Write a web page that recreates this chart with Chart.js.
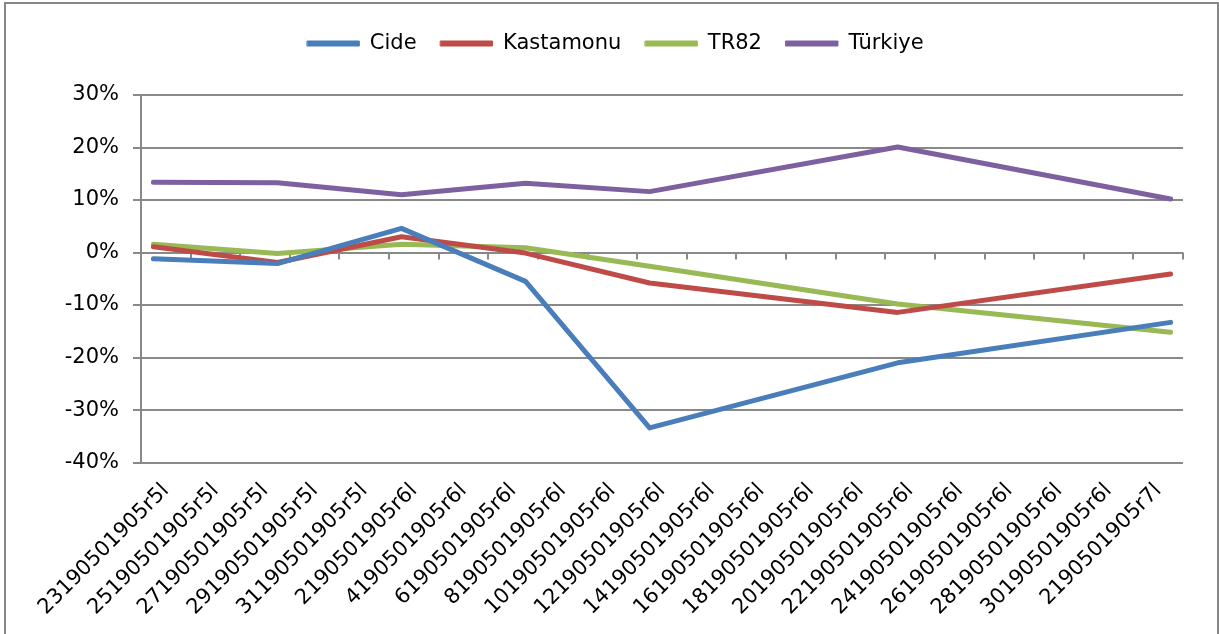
<!DOCTYPE html>
<html>
<head>
<meta charset="utf-8">
<script src="https://cdn.jsdelivr.net/npm/chart.js@4.4.1/dist/chart.umd.min.js"></script>
<style>
  html, body { margin: 0; padding: 0; background: #fff; overflow: hidden; }
  #wrap { position: relative; width: 1219px; height: 634px; }
  #frame { position: absolute; left: 4px; top: 2px; width: 1211px; height: 700px;
           border: 2px solid #878787; border-bottom: none; pointer-events: none; }
  canvas { position: absolute; left: 0; top: 0; }
</style>
</head>
<body>
<div id="wrap">
  <canvas id="c" width="1219" height="634"></canvas>
  <div id="frame"></div>
</div>
<script>
// Axis tick labels (one per 2-day interval, starting 23 May)
const X_LABELS = [
  "23190501905r5l", "25190501905r5l", "27190501905r5l", "29190501905r5l", "31190501905r5l",
  "2190501905r6l", "4190501905r6l", "6190501905r6l", "8190501905r6l", "10190501905r6l",
  "12190501905r6l", "14190501905r6l", "16190501905r6l", "18190501905r6l", "20190501905r6l",
  "22190501905r6l", "24190501905r6l", "26190501905r6l", "28190501905r6l", "30190501905r6l",
  "2190501905r7l"
];
// Observation dates as day offsets from 23 May
const DAYS = [0, 5, 10, 15, 20, 30, 41];
// Series values (%)
const CIDE      = [-1.2, -2.1, 4.6, -5.5, -33.4, -21.0, -13.3];
const KASTAMONU = [1.1, -1.9, 3.0, -0.1, -5.8, -11.4, -4.1];
const TR82      = [1.6, -0.2, 1.6, 0.9, -2.6, -9.8, -15.2];
const TURKIYE   = [13.4, 13.3, 11.0, 13.2, 11.6, 20.1, 10.2];
const SERIES_NAMES = ["Cide", "Kastamonu", "TR82", "Türkiye"];
const Y_TICKS = [-40, -30, -20, -10, 0, 10, 20, 30];

const COLORS = ["#4a7ebb", "#be4b48", "#98b954", "#7d60a0"];
const GRID = "#898989";
const FONT = "'DejaVu Sans', Verdana, sans-serif";

const toPts = arr => arr.map((v, i) => ({ x: DAYS[i], y: v }));
const datasets = [CIDE, KASTAMONU, TR82, TURKIYE].map((arr, i) => ({
  label: SERIES_NAMES[i],
  data: toPts(arr),
  borderColor: COLORS[i],
  backgroundColor: COLORS[i],
  borderWidth: 5,
  pointRadius: 0,
  pointHoverRadius: 0,
  tension: 0,
  borderCapStyle: 'round',
  borderJoinStyle: 'round',
  fill: false
}));

// Tick marks hanging below the 0% line (category axis crosses at 0)
const zeroAxisTicks = {
  id: 'zeroAxisTicks',
  beforeDatasetsDraw(chart) {
    const xs = chart.scales.x, ys = chart.scales.y, ctx = chart.ctx;
    const y0 = ys.getPixelForValue(0);
    ctx.save();
    ctx.strokeStyle = GRID;
    ctx.lineWidth = 2;
    ctx.beginPath();
    for (let i = 0; i <= X_LABELS.length; i++) {
      const x = Math.round(xs.getPixelForValue(2 * i - 0.5));
      ctx.moveTo(x, y0);
      ctx.lineTo(x, y0 + 7);
    }
    ctx.stroke();
    ctx.restore();
  }
};

const legendSpace = {
  id: 'legendSpace',
  beforeInit(chart) {
    const origFit = chart.legend.fit;
    chart.legend.fit = function () {
      origFit.bind(chart.legend)();
      this.height += 31;
    };
  },
  afterLayout(chart) {
    chart.legend.left += 20;
    chart.legend.right += 20;
  }
};

new Chart(document.getElementById('c'), {
  type: 'line',
  data: { datasets },
  plugins: [zeroAxisTicks, legendSpace],
  options: {
    responsive: false,
    animation: false,
    layout: { padding: { left: 8, right: 36, top: 9, bottom: 6 } },
    plugins: {
      tooltip: { enabled: false },
      legend: {
        position: 'top',
        labels: {
          font: { family: FONT, size: 21 },
          color: '#000',
          boxWidth: 52,
          boxHeight: 5,
          padding: 24,
          generateLabels(chart) {
            const items = Chart.defaults.plugins.legend.labels.generateLabels(chart);
            items.forEach((it, i) => {
              it.fillStyle = COLORS[i];
              it.strokeStyle = COLORS[i];
              it.lineWidth = 1;
            });
            return items;
          }
        }
      }
    },
    scales: {
      x: {
        type: 'linear',
        min: -0.5,
        max: 41.5,
        afterBuildTicks(scale) {
          scale.ticks = X_LABELS.map((_, i) => ({ value: 2 * i + 0.5 }));
        },
        grid: { display: false },
        border: { display: false },
        ticks: {
          autoSkip: false,
          minRotation: 45,
          maxRotation: 45,
          padding: 8,
          color: '#000',
          font: { family: FONT, size: 21 },
          callback(value) {
            const idx = Math.round((value - 0.5) / 2);
            return X_LABELS[idx] !== undefined ? X_LABELS[idx] : '';
          }
        }
      },
      y: {
        min: -40,
        max: 30,
        afterBuildTicks(scale) {
          scale.ticks = Y_TICKS.map(v => ({ value: v }));
        },
        afterFit(scale) { scale.width = 133; },
        grid: { color: GRID, lineWidth: 2, tickLength: 8, tickColor: GRID },
        border: { display: true, color: GRID, width: 2 },
        ticks: {
          padding: 14,
          color: '#000',
          font: { family: FONT, size: 21 },
          callback: v => v + '%'
        }
      }
    }
  }
});
</script>
</body>
</html>
